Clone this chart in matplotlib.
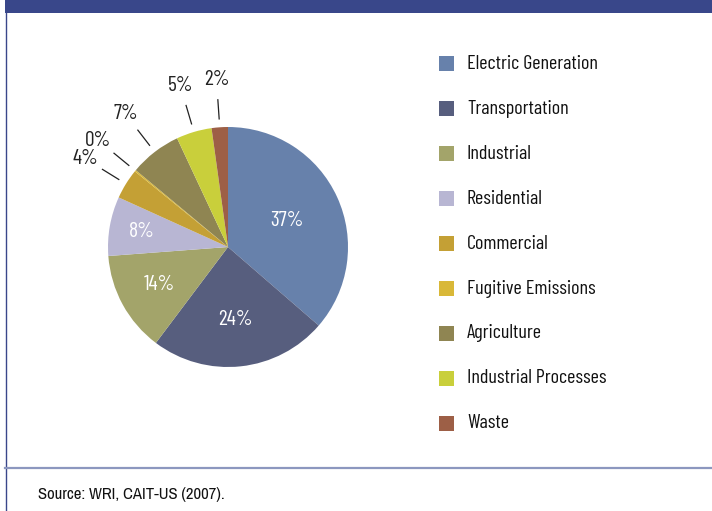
import numpy as np
import matplotlib.pyplot as plt
from matplotlib.patches import Rectangle
from matplotlib.lines import Line2D

plt.rcParams['font.family'] = ['Barlow Condensed', 'Archivo Narrow', 'DejaVu Sans']

# Data
categories = ["Electric Generation", "Transportation", "Industrial", "Residential",
              "Commercial", "Fugitive Emissions", "Agriculture",
              "Industrial Processes", "Waste"]
shares = [36.5, 24.0, 13.6, 8.0, 4.1, 0.2, 7.0, 4.8, 2.2]
pct_labels = ["37%", "24%", "14%", "8%", "4%", "0%", "7%", "5%", "2%"]
colors = ["#6781ab", "#575e7e", "#a3a46a", "#b8b6d3", "#c4a035",
          "#d9b838", "#8f8552", "#c9cf3b", "#9d5f46"]

W, H = 712, 511
fig = plt.figure(figsize=(W / 100, H / 100), dpi=100)

# frame: top band, left rule, bottom rule
fig.add_artist(Rectangle((5 / W, 1 - 13 / H), 1, 13 / H, transform=fig.transFigure,
                         color="#39478a", lw=0))
fig.add_artist(Line2D([5.5 / W, 5.5 / W], [0, 1], transform=fig.transFigure,
                      color="#39478a", lw=1))
fig.add_artist(Line2D([5 / W, 1], [1 - 468 / H, 1 - 468 / H], transform=fig.transFigure,
                      color="#8c97bf", lw=1.6))

# pie axes: center (228, 247) px, radius 120 px -> 1 unit = 120 px
cx, cy, rpx = 228, 247, 120
half = 1.5 * rpx
ax = fig.add_axes([(cx - half) / W, 1 - (cy + half) / H, 2 * half / W, 2 * half / H])

wedges, _ = ax.pie(shares, colors=colors, startangle=90, counterclock=False,
                   radius=1.0, wedgeprops=dict(linewidth=0))
ax.set_xlim(-1.5, 1.5)
ax.set_ylim(-1.5, 1.5)
ax.set_aspect("equal")
ax.axis("off")

inside_r = {"37%": 0.54, "24%": 0.61, "14%": 0.65, "8%": 0.73}
for w, lab in zip(wedges, pct_labels):
    mid = np.deg2rad((w.theta1 + w.theta2) / 2)
    ux, uy = np.cos(mid), np.sin(mid)
    if lab in inside_r and w.theta2 - w.theta1 > 20:
        r = inside_r[lab]
        ax.text(r * ux, r * uy, lab, ha="center", va="center",
                color="white", fontsize=15.5)
    else:
        ax.plot([1.07 * ux, 1.23 * ux], [1.07 * uy, 1.23 * uy],
                color="#222222", lw=0.9)
        ax.text(1.40 * ux, 1.40 * uy, lab, ha="center", va="center",
                color="#222222", fontsize=15.5)

# legend
for i, (cat, col) in enumerate(zip(categories, colors)):
    y = 64 + i * 44.9
    fig.add_artist(Rectangle((439 / W, 1 - (y + 7.5) / H), 15 / W, 15 / H,
                             transform=fig.transFigure, color=col, lw=0))
    fig.text(467 / W, 1 - y / H, cat, ha="left", va="center",
             fontsize=14.5, color="#111111")

fig.text(38 / W, 1 - 494 / H, "Source: WRI, CAIT-US (2007).", ha="left",
         va="center", fontsize=12, color="#111111", family="Archivo Narrow")

fig.savefig("out.png", dpi=100)
